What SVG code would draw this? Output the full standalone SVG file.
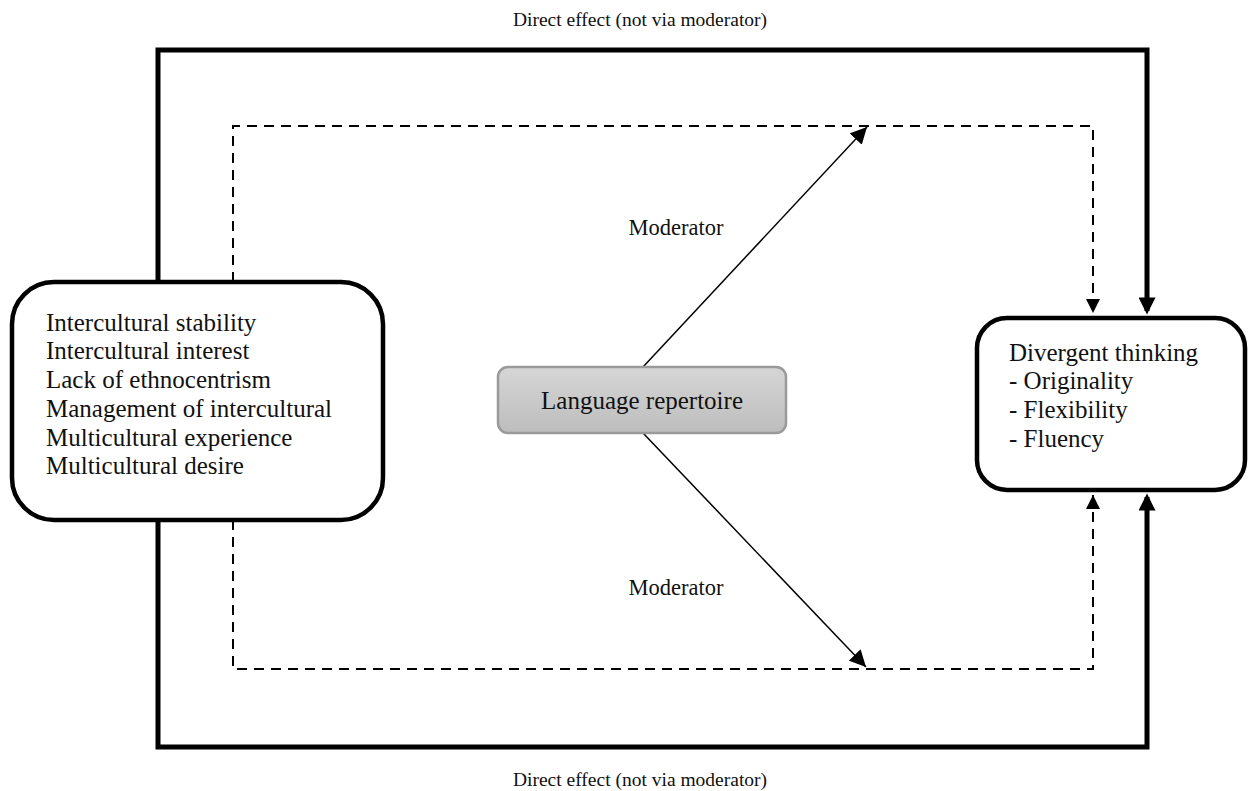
<svg xmlns="http://www.w3.org/2000/svg" width="1250" height="791" viewBox="0 0 1250 791">
<style>
text{font-family:"Liberation Serif","Times New Roman",serif;fill:#111}
.thick{fill:none;stroke:#000;stroke-width:5}
.dash{fill:none;stroke:#000;stroke-width:2;stroke-dasharray:10 7}
.thin{fill:none;stroke:#000;stroke-width:1.5}
.box{fill:#fff;stroke:#000;stroke-width:4.5}
</style>
<defs>
<marker id="ah" viewBox="0 0 10 10" refX="8" refY="5" markerWidth="3.6" markerHeight="3.4" markerUnits="strokeWidth" orient="auto"><path d="M0,0 L10,5 L0,10 z" fill="#000"/></marker>
<marker id="ahd" viewBox="0 0 10 10" refX="10" refY="5" markerWidth="7" markerHeight="7" markerUnits="strokeWidth" orient="auto"><path d="M0,0 L10,5 L0,10 z" fill="#000"/></marker>
<marker id="aht" viewBox="0 0 10 10" refX="10" refY="5" markerWidth="11" markerHeight="11" markerUnits="strokeWidth" orient="auto"><path d="M0,0 L10,5 L0,10 z" fill="#000"/></marker>
<linearGradient id="g" x1="0" y1="0" x2="0" y2="1"><stop offset="0" stop-color="#d6d6d6"/><stop offset="1" stop-color="#bdbdbd"/></linearGradient>
</defs>
<g id="connectors">
<path class="thick" d="M158,282 V50 H1147 V311" marker-end="url(#ah)"/>
<path class="thick" d="M158,520 V747 H1147 V497" marker-end="url(#ah)"/>
<path class="dash" d="M233,282 V126 H1093 V313" marker-end="url(#ahd)"/>
<path class="dash" d="M233,520 V669 H1093 V495" marker-end="url(#ahd)"/>
<line class="thin" x1="643" y1="367" x2="867" y2="127" marker-end="url(#aht)"/>
<line class="thin" x1="643" y1="433" x2="866" y2="667" marker-end="url(#aht)"/>
</g>
<text x="640" y="26" font-size="19.5" text-anchor="middle">Direct effect (not via moderator)</text>
<text x="640" y="786" font-size="19.5" text-anchor="middle">Direct effect (not via moderator)</text>
<text x="676" y="235" font-size="22.5" text-anchor="middle">Moderator</text>
<text x="676" y="595" font-size="22.5" text-anchor="middle">Moderator</text>
<g id="left">
<rect class="box" x="12" y="282" width="371" height="238" rx="42"/>
<text font-size="25" x="46"><tspan y="331">Intercultural stability</tspan><tspan x="46" y="359">Intercultural interest</tspan><tspan x="46" y="388">Lack of ethnocentrism</tspan><tspan x="46" y="417">Management of intercultural</tspan><tspan x="46" y="446">Multicultural experience</tspan><tspan x="46" y="474">Multicultural desire</tspan></text>
</g>
<g id="center">
<rect x="498" y="367" width="288" height="66" rx="10" fill="url(#g)" stroke="#9a9a9a" stroke-width="2.5"/>
<text x="642" y="409" font-size="25" text-anchor="middle">Language repertoire</text>
</g>
<g id="right">
<rect class="box" x="977" y="318" width="268" height="172" rx="30"/>
<text font-size="25" x="1009"><tspan y="361">Divergent thinking</tspan><tspan x="1009" y="389">- Originality</tspan><tspan x="1009" y="418">- Flexibility</tspan><tspan x="1009" y="447">- Fluency</tspan></text>
</g>
</svg>
